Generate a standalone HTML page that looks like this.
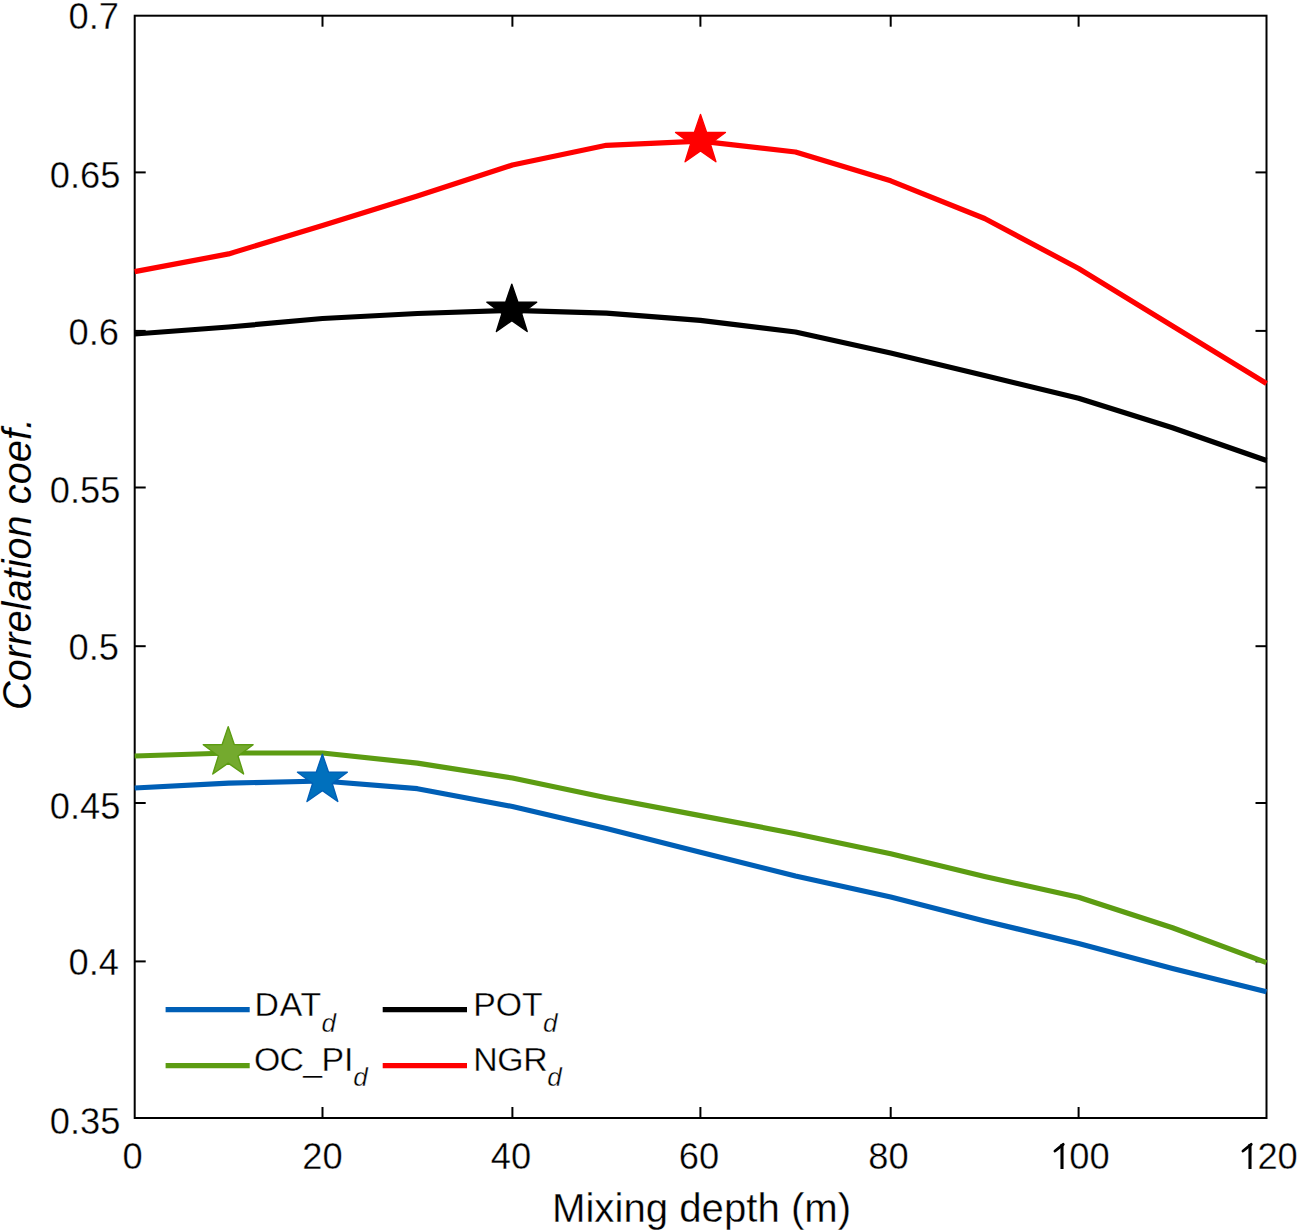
<!DOCTYPE html>
<html><head><meta charset="utf-8"><style>
html,body{margin:0;padding:0;background:#fff;width:1299px;height:1232px;overflow:hidden}
svg{display:block}
text{font-family:"Liberation Sans", sans-serif;fill:#000;stroke:#fff;stroke-width:0.35px}
</style></head><body>
<svg width="1299" height="1232" viewBox="0 0 1299 1232">
<rect width="1299" height="1232" fill="#fff"/>
<rect x="134.7" y="15.7" width="1131.8" height="1102.3" fill="none" stroke="#000" stroke-width="2.0"/>
<line x1="322.5" y1="1118.0" x2="322.5" y2="1107.0" stroke="#000" stroke-width="2.0"/>
<line x1="322.5" y1="15.7" x2="322.5" y2="26.7" stroke="#000" stroke-width="2.0"/>
<line x1="512.4" y1="1118.0" x2="512.4" y2="1107.0" stroke="#000" stroke-width="2.0"/>
<line x1="512.4" y1="15.7" x2="512.4" y2="26.7" stroke="#000" stroke-width="2.0"/>
<line x1="700.4" y1="1118.0" x2="700.4" y2="1107.0" stroke="#000" stroke-width="2.0"/>
<line x1="700.4" y1="15.7" x2="700.4" y2="26.7" stroke="#000" stroke-width="2.0"/>
<line x1="890.7" y1="1118.0" x2="890.7" y2="1107.0" stroke="#000" stroke-width="2.0"/>
<line x1="890.7" y1="15.7" x2="890.7" y2="26.7" stroke="#000" stroke-width="2.0"/>
<line x1="1078.6" y1="1118.0" x2="1078.6" y2="1107.0" stroke="#000" stroke-width="2.0"/>
<line x1="1078.6" y1="15.7" x2="1078.6" y2="26.7" stroke="#000" stroke-width="2.0"/>
<line x1="134.7" y1="961.4" x2="145.7" y2="961.4" stroke="#000" stroke-width="2.0"/>
<line x1="1266.5" y1="961.4" x2="1255.5" y2="961.4" stroke="#000" stroke-width="2.0"/>
<line x1="134.7" y1="803.0" x2="145.7" y2="803.0" stroke="#000" stroke-width="2.0"/>
<line x1="1266.5" y1="803.0" x2="1255.5" y2="803.0" stroke="#000" stroke-width="2.0"/>
<line x1="134.7" y1="646.2" x2="145.7" y2="646.2" stroke="#000" stroke-width="2.0"/>
<line x1="1266.5" y1="646.2" x2="1255.5" y2="646.2" stroke="#000" stroke-width="2.0"/>
<line x1="134.7" y1="487.5" x2="145.7" y2="487.5" stroke="#000" stroke-width="2.0"/>
<line x1="1266.5" y1="487.5" x2="1255.5" y2="487.5" stroke="#000" stroke-width="2.0"/>
<line x1="134.7" y1="330.9" x2="145.7" y2="330.9" stroke="#000" stroke-width="2.0"/>
<line x1="1266.5" y1="330.9" x2="1255.5" y2="330.9" stroke="#000" stroke-width="2.0"/>
<line x1="134.7" y1="172.4" x2="145.7" y2="172.4" stroke="#000" stroke-width="2.0"/>
<line x1="1266.5" y1="172.4" x2="1255.5" y2="172.4" stroke="#000" stroke-width="2.0"/>
<polyline points="134.7,756.0 228.6,753.0 322.5,753.0 417.4,763.1 512.4,778.0 606.4,797.8 700.4,815.6 795.5,833.7 890.7,853.7 984.6,876.5 1078.6,897.2 1172.5,927.8 1266.5,962.6" fill="none" stroke="#5C9C12" stroke-width="5.2" stroke-linejoin="round" stroke-linecap="butt"/>
<polyline points="134.7,788.0 228.6,783.1 322.5,781.0 417.4,788.7 512.4,806.5 606.4,828.5 700.4,852.2 795.5,876.0 890.7,897.0 984.6,921.0 1078.6,943.5 1172.5,968.4 1266.5,991.8" fill="none" stroke="#005FB6" stroke-width="5.2" stroke-linejoin="round" stroke-linecap="butt"/>
<polyline points="134.7,334.0 228.6,327.0 322.5,318.5 417.4,313.5 512.4,310.3 606.4,313.1 700.4,320.3 795.5,332.0 890.7,353.0 984.6,375.5 1078.6,398.3 1172.5,427.8 1266.5,460.5" fill="none" stroke="#000000" stroke-width="5.2" stroke-linejoin="round" stroke-linecap="butt"/>
<polyline points="134.7,271.6 228.6,253.9 322.5,225.5 417.4,196.0 512.4,165.0 606.4,145.3 700.4,141.2 795.5,152.0 890.7,180.8 984.6,218.5 1078.6,268.5 1172.5,326.0 1266.5,383.5" fill="none" stroke="#FF0000" stroke-width="5.2" stroke-linejoin="round" stroke-linecap="butt"/>
<polygon points="228.20,726.60 234.25,744.47 253.12,744.70 238.00,755.98 243.60,774.00 228.20,763.10 212.80,774.00 218.40,755.98 203.28,744.70 222.15,744.47" fill="#74AA2E" stroke="#5C9C12" stroke-width="1.4" stroke-linejoin="round"/>
<polygon points="322.40,754.10 328.45,771.97 347.32,772.20 332.20,783.48 337.80,801.50 322.40,790.60 307.00,801.50 312.60,783.48 297.48,772.20 316.35,771.97" fill="#0070BD" stroke="#005FB6" stroke-width="1.4" stroke-linejoin="round"/>
<polygon points="511.80,284.10 517.85,301.97 536.72,302.20 521.60,313.48 527.20,331.50 511.80,320.60 496.40,331.50 502.00,313.48 486.88,302.20 505.75,301.97" fill="#000000" stroke="#000000" stroke-width="1.4" stroke-linejoin="round"/>
<polygon points="700.50,114.40 706.55,132.27 725.42,132.50 710.30,143.78 715.90,161.80 700.50,150.90 685.10,161.80 690.70,143.78 675.58,132.50 694.45,132.27" fill="#FF0000" stroke="#FF0000" stroke-width="1.4" stroke-linejoin="round"/>
<text x="120.5" y="1133.9" text-anchor="end" font-size="36.3">0.35</text>
<text x="119.0" y="975.1" text-anchor="end" font-size="36.3">0.4</text>
<text x="120.5" y="818.8" text-anchor="end" font-size="36.3">0.45</text>
<text x="119.0" y="660.1" text-anchor="end" font-size="36.3">0.5</text>
<text x="120.5" y="503.3" text-anchor="end" font-size="36.3">0.55</text>
<text x="119.0" y="344.7" text-anchor="end" font-size="36.3">0.6</text>
<text x="120.5" y="187.9" text-anchor="end" font-size="36.3">0.65</text>
<text x="119.0" y="29.4" text-anchor="end" font-size="36.3">0.7</text>
<text x="132.5" y="1169.0" text-anchor="middle" font-size="36.3">0</text>
<text x="322.5" y="1169.0" text-anchor="middle" font-size="36.3">20</text>
<text x="510.9" y="1169.0" text-anchor="middle" font-size="36.3">40</text>
<text x="698.9" y="1169.0" text-anchor="middle" font-size="36.3">60</text>
<text x="888.5" y="1169.0" text-anchor="middle" font-size="36.3">80</text>
<text x="1109.6" y="1169.0" text-anchor="end" font-size="36.3">00</text>
<text x="1297.8" y="1169.0" text-anchor="end" font-size="36.3">20</text>
<path d="M1062.0,1144.0 L1062.0,1169.0" stroke="#000" stroke-width="3.1" fill="none"/><path d="M1063.2,1144.3 L1055.0,1151.0" stroke="#000" stroke-width="2.9" fill="none" stroke-linecap="round"/>
<path d="M1250.0,1144.0 L1250.0,1169.0" stroke="#000" stroke-width="3.1" fill="none"/><path d="M1251.2,1144.3 L1243.0,1151.0" stroke="#000" stroke-width="2.9" fill="none" stroke-linecap="round"/>
<text x="701.6" y="1221.7" text-anchor="middle" font-size="40.2">Mixing depth (m)</text>
<text transform="translate(30.7,563.9) rotate(-90)" text-anchor="middle" font-size="39.8" font-style="italic" style="stroke-width:0.1px">Correlation coef.</text>
<line x1="165.6" y1="1009.6" x2="249.7" y2="1009.6" stroke="#005FB6" stroke-width="5.2"/>
<line x1="382.7" y1="1009.6" x2="467.0" y2="1009.6" stroke="#000000" stroke-width="5.2"/>
<line x1="165.6" y1="1065.7" x2="249.7" y2="1065.7" stroke="#5C9C12" stroke-width="5.2"/>
<line x1="382.7" y1="1065.7" x2="467.0" y2="1065.7" stroke="#FF0000" stroke-width="5.2"/>
<text x="254.5 279.8 300.6" y="1016.2" font-size="33.8">DAT</text>
<text x="321.5" y="1031.5" font-size="26" font-style="italic">d</text>
<text x="473.2 495.7 522.1" y="1016.2" font-size="33.8">POT</text>
<text x="543.1" y="1031.5" font-size="26" font-style="italic">d</text>
<text x="254.0 279.5 303.2 321.4 344.0" y="1071.0" font-size="33.8">OC_PI</text>
<text x="353.3" y="1085.8" font-size="26" font-style="italic">d</text>
<text x="473.2 497.3 523.2" y="1071.0" font-size="33.8">NGR</text>
<text x="547.3" y="1085.8" font-size="26" font-style="italic">d</text>
</svg>
</body></html>
